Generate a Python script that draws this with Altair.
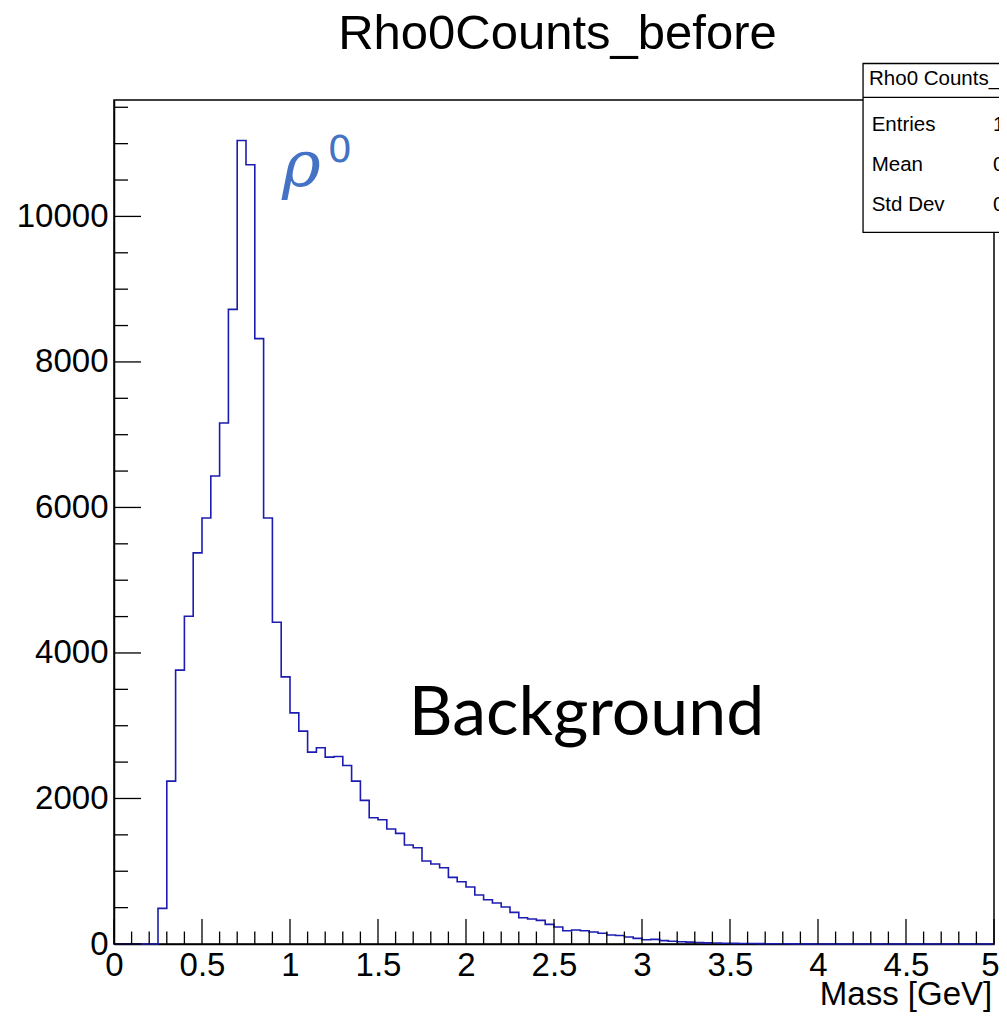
import altair as alt
import pandas as pd

# ---- data ----
bin_width = 0.05
counts = [
    0, 0, 0, 0, 0,                     # 0.00 - 0.25
    490, 2239, 3764, 4505, 5375,       # 0.25 - 0.50
    5856, 6433, 7161, 8722, 11044,     # 0.50 - 0.75
    10710, 8320, 5856, 4423, 3672,     # 0.75 - 1.00
    3177, 2926, 2637, 2697, 2569,      # 1.00 - 1.25
    2578, 2454, 2239, 1974, 1735,      # 1.25 - 1.50
    1708, 1580, 1520, 1360, 1323,      # 1.50 - 1.75
    1140, 1099, 1048, 916, 856,        # 1.75 - 2.00
    783, 673, 609, 563, 508,           # 2.00 - 2.25
    435, 361, 343, 325, 270,           # 2.25 - 2.50
    233, 183, 192, 183, 165,           # 2.50 - 2.75
    147, 124, 117, 96, 78,             # 2.75 - 3.00
    59, 64, 46, 38, 30,                # 3.00 - 3.25
    26, 20, 16, 13, 10,                # 3.25 - 3.50
    9, 7, 6, 5, 4,                     # 3.50 - 3.75
    3, 3, 2, 2, 1,                     # 3.75 - 4.00
    1, 0, 1, 0, 0,                     # 4.00 - 4.25
    0, 0, 0, 0, 0,                     # 4.25 - 4.50
    0, 0, 0, 0, 0,                     # 4.50 - 4.75
    0, 0, 0, 0, 0,                     # 4.75 - 5.00
]
x_major = [0, 0.5, 1, 1.5, 2, 2.5, 3, 3.5, 4, 4.5, 5]
x_minor = [round(0.1 * i, 2) for i in range(51) if i % 5 != 0]
y_major = [0, 2000, 4000, 6000, 8000, 10000]
y_minor = [500, 1000, 1500, 2500, 3000, 3500, 4500, 5000, 5500, 6500, 7000,
           7500, 8500, 9000, 9500, 10500, 11000, 11500]
title_text = "Rho0Counts_before"
x_title = "Mass [GeV]"
stats_name = "Rho0 Counts_"
stats_labels = ["Entries", "Mean", "Std Dev"]
stats_values = ["1", "0", "0"]

X_DOMAIN = [0, 5]
Y_DOMAIN = [0, 11600]
W, H = 880, 844
FONT = "Liberation Sans"

edges = [round(bin_width * i, 2) for i in range(len(counts))] + [5.0]
step_df = pd.DataFrame({"x": edges, "y": counts + [counts[-1]]})

xs = alt.Scale(domain=X_DOMAIN, nice=False, zero=False)
ys = alt.Scale(domain=Y_DOMAIN, nice=False)

X_AXIS = alt.Axis(values=x_major, ticks=False, grid=False, labelFont=FONT, labelFontSize=33,
                  labelColor="black", labelPadding=5, domainColor="black", domainWidth=1.5,
                  title=None, labelFlush=False, labelOverlap=False, format="~g",
                  labelAlign={"condition": {"test": "datum.value == 5", "value": "right"},
                              "value": "center"},
                  labelOffset={"condition": {"test": "datum.value == 5", "value": 5},
                               "value": 0})
Y_AXIS = alt.Axis(values=y_major, ticks=False, grid=False, labelFont=FONT, labelFontSize=33,
                  labelColor="black", labelPadding=6, domainColor="black", domainWidth=1.5,
                  title=None, labelFlush=False, format="d", labelOverlap=False)


def X(field):
    return alt.X(field, scale=xs, axis=X_AXIS)


def Y(field):
    return alt.Y(field, scale=ys, axis=Y_AXIS)


hist = alt.Chart(step_df).mark_line(
    interpolate="step-after", color="#1c1cb0", strokeWidth=1.6
).encode(x=X("x:Q"), y=Y("y:Q"))


def xticks(vals, length):
    return alt.Chart(pd.DataFrame({"x": vals})).mark_rule(color="black", strokeWidth=1.3).encode(
        x=X("x:Q"), y=alt.value(H), y2=alt.value(H - length))


def yticks(vals, length):
    return alt.Chart(pd.DataFrame({"y": vals})).mark_rule(color="black", strokeWidth=1.3).encode(
        y=Y("y:Q"), x=alt.value(0), x2=alt.value(length))


def text(label, x, y, **kw):
    return alt.Chart(pd.DataFrame({"x": [x], "y": [y], "t": [label]})).mark_text(**kw).encode(
        x=X("x:Q"), y=Y("y:Q"), text="t:N")


title = text(title_text, 2.52, 12300, font=FONT, fontSize=49, align="center",
             baseline="alphabetic", color="black")
xlab = text(x_title, 4.99, -835, font=FONT, fontSize=33, align="right",
            baseline="alphabetic", color="black")
rho = text("ρ", 0.955, 10420, font="DejaVu Serif", fontStyle="italic", fontSize=66,
           align="left", baseline="alphabetic", color="#4472C4")
rho_sup = text("0", 1.215, 10742, font="DejaVu Sans", fontSize=38, align="left",
               baseline="alphabetic", color="#4472C4")
bkg = text("Background", 1.675, 2871, font="Lato", fontSize=68, align="left",
           baseline="alphabetic", color="black")

# stats box
box = alt.Chart(pd.DataFrame({"x": [4.256], "x2": [6.5], "y": [9780], "y2": [12102]})).mark_rect(
    fill="white", stroke="black", strokeWidth=1.3).encode(
    x=X("x:Q"), x2="x2:Q", y=Y("y:Q"), y2="y2:Q")
hdr = alt.Chart(pd.DataFrame({"x": [4.256], "x2": [6.5], "y": [11635]})).mark_rule(
    color="black", strokeWidth=1.3).encode(x=X("x:Q"), x2="x2:Q", y=Y("y:Q"))
stats_title = text(stats_name, 4.29, 11810, font=FONT, fontSize=20.5, align="left",
                   baseline="alphabetic", color="black")
stat_rows = alt.Chart(pd.DataFrame({
    "x": [4.305] * 3, "y": [11170, 10620, 10070], "t": stats_labels})).mark_text(
    font=FONT, fontSize=20.5, align="left", baseline="alphabetic", color="black").encode(
    x=X("x:Q"), y=Y("y:Q"), text="t:N")
stat_vals = alt.Chart(pd.DataFrame({
    "x": [4.995] * 3, "y": [11170, 10620, 10070], "t": stats_values})).mark_text(
    font=FONT, fontSize=20.5, align="left", baseline="alphabetic", color="black").encode(
    x=X("x:Q"), y=Y("y:Q"), text="t:N")

chart = alt.layer(
    hist,
    xticks(x_major, 25), xticks(x_minor, 12.5),
    yticks(y_major, 27), yticks(y_minor, 14),
    title, xlab, rho, rho_sup, bkg,
    box, hdr, stats_title, stat_rows, stat_vals,
).properties(
    width=W, height=H,
    background="white",
    autosize=alt.AutoSizeParams(type="none"),
    padding={"left": 106, "top": 92, "right": 5, "bottom": 69},
).configure_view(stroke="black", strokeWidth=1.5)

chart.save("out.html", embed_options={"renderer": "svg", "actions": False})
